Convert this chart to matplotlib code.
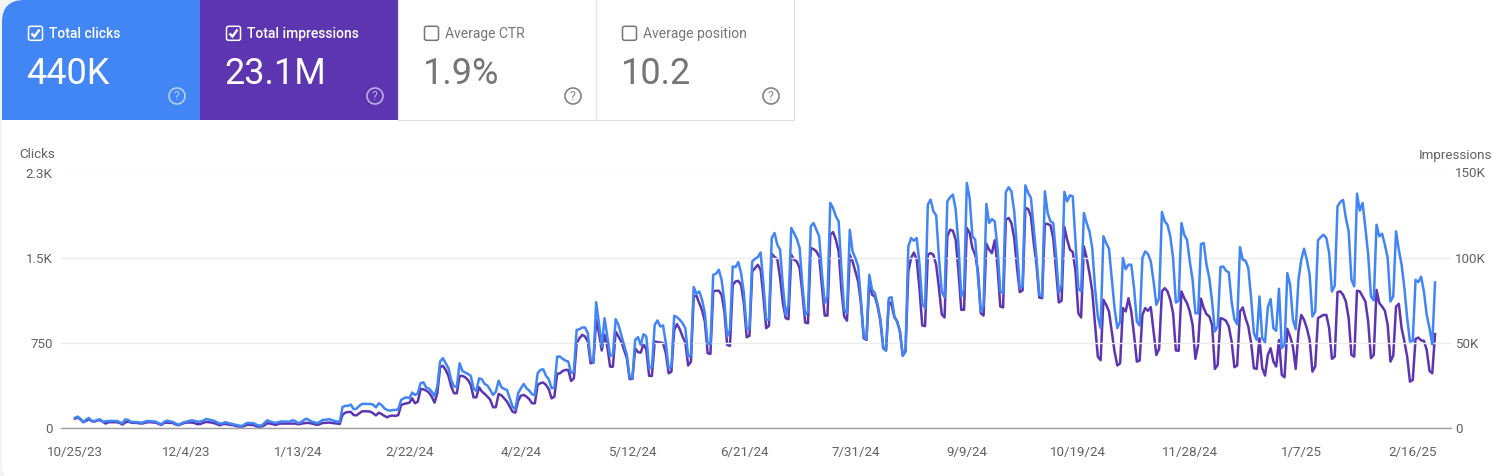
import matplotlib
matplotlib.use("Agg")
import matplotlib.pyplot as plt
from matplotlib.patches import Rectangle, FancyBboxPatch, Circle, PathPatch
from matplotlib.path import Path

# daily values, first row is Wed-Sun, then one row per Mon-Sun week, last one is a lone Monday
clicks = [
    90, 100, 80, 50, 75,
    88, 62, 60, 72, 76, 55, 58,
    62, 62, 62, 62, 52, 40, 75,
    72, 55, 53, 52, 50, 46, 56,
    62, 60, 58, 56, 42, 32, 55,
    65, 58, 55, 42, 28, 38, 50,
    56, 62, 68, 62, 55, 58, 65,
    80, 75, 68, 62, 50, 38, 42,
    52, 42, 38, 32, 26, 20, 18,
    35, 46, 42, 44, 30, 22, 22,
    45, 68, 58, 50, 44, 52, 58,
    56, 56, 56, 68, 62, 44, 50,
    68, 82, 70, 56, 50, 42, 58,
    72, 72, 78, 72, 62, 58, 55,
    185, 195, 195, 206, 165, 170, 195,
    212, 212, 212, 212, 205, 182, 218,
    203, 173, 159, 153, 159, 159, 165,
    247, 262, 270, 262, 312, 291, 306,
    394, 403, 356, 347, 320, 282, 365,
    585, 615, 570, 526, 423, 365, 365,
    570, 503, 488, 476, 459, 350, 326,
    438, 429, 388, 373, 335, 291, 320,
    417, 359, 344, 335, 262, 188, 165,
    306, 350, 388, 350, 329, 297, 291,
    482, 512, 517, 459, 429, 350, 356,
    629, 629, 609, 594, 585, 482, 497,
    864, 870, 885, 885, 835, 606, 576,
    1108, 923, 717, 967, 805, 635, 644,
    958, 908, 820, 732, 644, 447, 438,
    776, 800, 732, 826, 805, 526, 535,
    908, 947, 894, 903, 747, 526, 541,
    988, 976, 953, 923, 879, 629, 644,
    1241, 1182, 1202, 1129, 1011, 741, 741,
    1349, 1358, 1394, 1305, 1114, 806, 864,
    1423, 1417, 1461, 1364, 1188, 873, 873,
    1467, 1491, 1505, 1546, 1276, 953, 953,
    1673, 1717, 1614, 1570, 1247, 997, 1085,
    1761, 1717, 1664, 1585, 1261, 997, 1026,
    1776, 1805, 1746, 1688, 1364, 1100, 1158,
    1982, 1937, 1864, 1820, 1394, 1041, 1011,
    1746, 1555, 1496, 1423, 1129, 806, 782,
    1349, 1217, 1188, 1085, 953, 711, 682,
    1144, 1152, 982, 938, 850, 638, 679,
    1599, 1673, 1649, 1673, 1450, 1100, 1055,
    1967, 2011, 1908, 1873, 1496, 1202, 1150,
    1996, 2032, 2055, 1923, 1614, 1158, 1217,
    2158, 2026, 1688, 1658, 1320, 1026, 1070,
    1973, 1805, 1840, 1820, 1585, 1202, 1188,
    2079, 2120, 2084, 1908, 1585, 1232, 1247,
    2137, 2070, 2026, 1761, 1496, 1173, 1158,
    2084, 1893, 1820, 1805, 1526, 1188, 1261,
    2079, 1996, 2049, 2040, 1643, 1232, 1202,
    1893, 1805, 1732, 1585, 1232, 982, 879,
    1688, 1629, 1579, 1320, 1055, 879, 938,
    1496, 1399, 1438, 1438, 1232, 938, 903,
    1496, 1555, 1532, 1467, 1291, 1085, 1144,
    1902, 1820, 1790, 1688, 1496, 1105, 1120,
    1805, 1702, 1658, 1467, 1305, 1011, 1011,
    1620, 1629, 1438, 1320, 1114, 850, 894,
    1417, 1423, 1385, 1370, 1114, 958, 914,
    1593, 1482, 1473, 1408, 1144, 835, 776,
    1158, 791, 756, 1064, 1135, 879, 856,
    1226, 703, 732, 1364, 1261, 953, 870,
    1305, 1482, 1579, 1482, 1349, 982, 1026,
    1652, 1682, 1702, 1673, 1541, 1202, 1252,
    1952, 1990, 2008, 1849, 1732, 1305, 1247,
    2064, 1914, 1982, 1761, 1526, 1158, 1123,
    1790, 1688, 1711, 1614, 1496, 1114, 1158,
    1732, 1570, 1438, 1232, 967, 761, 767,
    1305, 1285, 1332, 1202, 997, 879, 738,
    1282,
]

# in thousands
impressions = [
    5.5, 6.2, 5.0, 3.5, 4.2,
    5.2, 4.0, 3.8, 4.4, 4.6, 3.6, 2.6,
    3.4, 3.4, 3.4, 3.4, 3.0, 2.0, 3.2,
    3.8, 3.2, 3.0, 3.0, 2.8, 2.6, 3.0,
    3.4, 3.4, 3.2, 3.2, 2.4, 1.8, 3.0,
    3.2, 3.0, 3.0, 2.2, 1.6, 2.2, 2.8,
    3.2, 3.2, 3.2, 2.8, 2.2, 2.4, 3.0,
    3.6, 3.4, 3.2, 2.8, 2.2, 1.6, 2.2,
    2.4, 2.0, 1.8, 1.6, 1.0, 0.8, 0.6,
    1.4, 2.0, 1.8, 1.8, 1.0, 0.6, 0.8,
    1.6, 2.8, 2.6, 2.2, 1.8, 2.4, 2.6,
    2.6, 2.6, 2.6, 2.6, 2.6, 2.2, 2.4,
    2.8, 3.0, 3.0, 2.6, 2.2, 1.8, 2.4,
    3.0, 3.0, 3.2, 3.0, 2.8, 2.6, 2.4,
    7.8, 9.0, 9.4, 9.4, 7.6, 7.4, 8.6,
    9.8, 9.8, 9.8, 9.6, 8.6, 7.4, 9.0,
    8.2, 7.1, 6.3, 7.1, 7.3, 7.1, 7.6,
    13.5, 14.1, 14.5, 14.9, 17.4, 14.5, 15.5,
    22.9, 22.7, 22.0, 20.8, 18.4, 14.9, 20.4,
    35.7, 36.5, 34.1, 30.6, 24.3, 20.4, 20.4,
    30.6, 30.6, 29.8, 28.2, 25.3, 18.0, 18.0,
    23.9, 21.4, 20.0, 18.4, 16.5, 12.2, 12.2,
    20.0, 19.2, 17.4, 15.5, 12.5, 9.6, 9.0,
    16.0, 19.0, 19.4, 18.4, 16.9, 14.5, 14.5,
    25.3, 26.3, 26.7, 25.3, 22.7, 17.4, 18.4,
    31.8, 32.1, 33.5, 34.1, 34.1, 27.6, 29.2,
    49.8, 52.7, 54.7, 53.7, 50.8, 38.0, 38.4,
    63.5, 55.7, 45.5, 54.7, 47.8, 36.0, 36.0,
    56.6, 53.7, 50.8, 45.9, 41.0, 28.8, 28.8,
    46.8, 44.5, 44.3, 49.4, 45.9, 30.6, 30.6,
    50.8, 50.4, 50.2, 49.8, 43.9, 32.1, 33.1,
    57.6, 61.0, 58.0, 53.7, 50.2, 36.7, 39.0,
    77.2, 77.6, 73.3, 69.0, 62.5, 43.9, 43.5,
    80.2, 80.6, 80.6, 78.2, 68.4, 48.8, 48.2,
    84.0, 86.0, 86.4, 84.0, 73.3, 53.3, 54.1,
    91.9, 93.9, 95.8, 92.9, 77.2, 58.6, 60.0,
    102.3, 100.4, 99.2, 88.0, 73.3, 64.5, 63.9,
    101.7, 98.8, 97.8, 93.9, 79.2, 61.9, 61.5,
    105.6, 105.0, 103.7, 100.7, 83.0, 66.0, 66.0,
    113.5, 115.0, 110.5, 103.7, 81.0, 65.5, 63.0,
    101.7, 97.8, 91.9, 86.0, 73.3, 52.7, 51.7,
    86.0, 78.2, 77.2, 71.3, 62.5, 46.8, 45.5,
    74.3, 72.3, 65.0, 62.5, 56.6, 42.5, 44.9,
    91.9, 99.8, 103.0, 98.8, 82.0, 60.2, 59.8,
    101.7, 102.7, 101.7, 95.8, 82.0, 66.8, 64.9,
    112.5, 116.4, 115.8, 110.5, 91.9, 69.4, 69.4,
    117.4, 114.5, 105.6, 101.7, 91.9, 67.4, 66.0,
    108.2, 104.7, 102.7, 110.2, 94.9, 71.3, 70.8,
    122.3, 123.3, 120.3, 111.5, 93.9, 79.8, 80.8,
    129.2, 128.6, 124.3, 108.6, 95.8, 76.6, 76.2,
    119.8, 119.8, 119.0, 111.5, 92.9, 73.7, 74.7,
    118.0, 110.5, 104.7, 103.3, 91.9, 67.4, 64.9,
    106.6, 99.8, 90.9, 80.2, 60.6, 41.9, 39.8,
    75.3, 72.3, 68.4, 56.6, 44.9, 36.7, 38.0,
    70.4, 68.4, 76.2, 68.4, 54.7, 39.0, 39.6,
    66.4, 70.4, 68.8, 71.0, 56.6, 42.9, 46.5,
    80.2, 82.1, 80.2, 75.3, 67.4, 45.5, 45.3,
    80.2, 76.2, 73.3, 68.4, 60.6, 40.6, 48.8,
    75.9, 70.4, 66.8, 65.5, 60.6, 34.7, 37.0,
    64.5, 64.0, 62.9, 59.6, 50.8, 35.7, 36.7,
    68.4, 70.8, 64.5, 59.6, 49.8, 35.1, 34.7,
    52.7, 35.1, 30.8, 42.9, 46.8, 39.0, 36.1,
    51.7, 31.2, 29.8, 58.2, 53.7, 47.8, 34.7,
    56.6, 66.4, 63.5, 58.6, 51.7, 33.1, 36.1,
    64.5, 65.5, 66.4, 66.4, 58.6, 40.6, 41.9,
    79.8, 80.2, 78.2, 74.3, 64.5, 42.9, 41.9,
    80.6, 80.2, 77.2, 74.3, 62.5, 41.0, 42.9,
    81.1, 73.3, 71.3, 68.8, 60.6, 39.0, 42.5,
    71.3, 72.9, 58.6, 50.8, 41.9, 27.2, 28.2,
    52.3, 53.1, 51.4, 51.2, 45.9, 33.5, 32.1,
    55.1,
]

date_labels = ["10/25/23", "12/4/23", "1/13/24", "2/22/24", "4/2/24", "5/12/24", "6/21/24",
               "7/31/24", "9/9/24", "10/19/24", "11/28/24", "1/7/25", "2/16/25"]
clicks_ticks = [0, 750, 1500, 2250]
clicks_ticklabels = ["0", "750", "1.5K", "2.3K"]
impr_ticks = [0, 50, 100, 150]
impr_ticklabels = ["0", "50K", "100K", "150K"]

cards = [
    ("Total clicks", "440K", "#4285f4", True),
    ("Total impressions", "23.1M", "#5e35b1", True),
    ("Average CTR", "1.9%", "#ffffff", False),
    ("Average position", "10.2", "#ffffff", False),
]

plt.rcParams["font.family"] = "Roboto"
W, H = 1503, 476
fig = plt.figure(figsize=(W / 100, H / 100), dpi=100, facecolor="#f1f3f4")

# page layer in pixel coordinates
bg = fig.add_axes([0, 0, 1, 1])
bg.set_xlim(0, W)
bg.set_ylim(H, 0)
bg.axis("off")
bg.add_patch(FancyBboxPatch((2, 0), W + 40, H + 10, boxstyle="round,pad=0,rounding_size=22",
                            fc="white", ec="none"))

card_w = 198
for i, (name, value, color, active) in enumerate(cards):
    x0 = 2 + i * card_w
    if active:
        if i == 0:
            # first card follows the rounded corner of the page
            corner = bg.add_patch(FancyBboxPatch((x0, 0), card_w + 30, 150, boxstyle="round,pad=0,rounding_size=22",
                                                 fc=color, ec="none"))
            corner.set_clip_path(Rectangle((x0, 0), card_w, 120, transform=bg.transData))
        else:
            bg.add_patch(Rectangle((x0, 0), card_w, 120, fc=color, ec="none"))
        fg = "white"
    else:
        bg.add_patch(Rectangle((x0, -2), card_w, 122, fc="white", ec="#e0e0e0", lw=0.8))
        fg = "#757575"
    # checkbox
    bg.add_patch(FancyBboxPatch((x0 + 26.5, 26.3), 14, 14, boxstyle="round,pad=0,rounding_size=2",
                                fc="none", ec=fg, lw=1.1))
    if active:
        bg.add_patch(PathPatch(Path([(x0 + 29.5, 33.5), (x0 + 32.5, 36.5), (x0 + 37.5, 29.5)]),
                               fc="none", ec="white", lw=1.7))
    bg.text(x0 + 47, 34, name, color=fg, fontsize=10, va="center", ha="left",
            fontweight="medium" if active else "normal")
    bg.text(x0 + 24.5, 74, value, color=fg, fontsize=26, va="center", ha="left")
    # help icon
    bg.add_patch(Circle((x0 + 175, 96), 8, fc="none", ec=fg, lw=1.2, alpha=0.6 if active else 0.9))
    bg.text(x0 + 175, 96.5, "?", color=fg, fontsize=9, ha="center", va="center", alpha=0.6 if active else 0.9)

# chart
px_per_day = 2.787
x_first, left_px, right_px = 75, 61, 1451
top_px, base_px = 172.5, 428
ax = fig.add_axes([left_px / W, 1 - base_px / H, (right_px - left_px) / W, (base_px - top_px) / H])
ax.patch.set_alpha(0)
ax.set_xlim((left_px - x_first) / px_per_day, (right_px - x_first) / px_per_day)
ax.set_ylim(0, clicks_ticks[-1])
ax.set_yticks(clicks_ticks)
ax.set_yticklabels(clicks_ticklabels)
ax.set_xticks(range(0, 40 * len(date_labels), 40))
ax.set_xticklabels(date_labels)
ax.grid(axis="y", color="#ebebeb", lw=1)
ax.set_axisbelow(True)
for s in ["top", "left", "right"]:
    ax.spines[s].set_visible(False)
ax.spines["bottom"].set_color("#9e9e9e")
ax.spines["bottom"].set_linewidth(1)
ax.tick_params(axis="both", length=0, labelsize=9.6, labelcolor="#616161")
ax.tick_params(axis="x", pad=13)
ax.tick_params(axis="y", pad=6)

ax2 = ax.twinx()
ax2.set_ylim(0, impr_ticks[-1])
ax2.set_yticks(impr_ticks)
ax2.set_yticklabels(impr_ticklabels)
ax2.tick_params(axis="y", length=0, labelsize=9.6, labelcolor="#616161", pad=3)
for s in ax2.spines.values():
    s.set_visible(False)
ax2.set_zorder(1)
ax.set_zorder(2)

ax2.plot(range(len(impressions)), impressions, color="#5e35b1", lw=1.8, solid_joinstyle="round")
ax.plot(range(len(clicks)), clicks, color="#4285f4", lw=1.8, solid_joinstyle="round")

bg.text(55, 155, "Clicks", color="#616161", fontsize=9.6, ha="right", va="center")
bg.text(1492, 155, "Impressions", color="#616161", fontsize=9.6, ha="right", va="center")

fig.savefig("out.png", dpi=100, facecolor=fig.get_facecolor())
